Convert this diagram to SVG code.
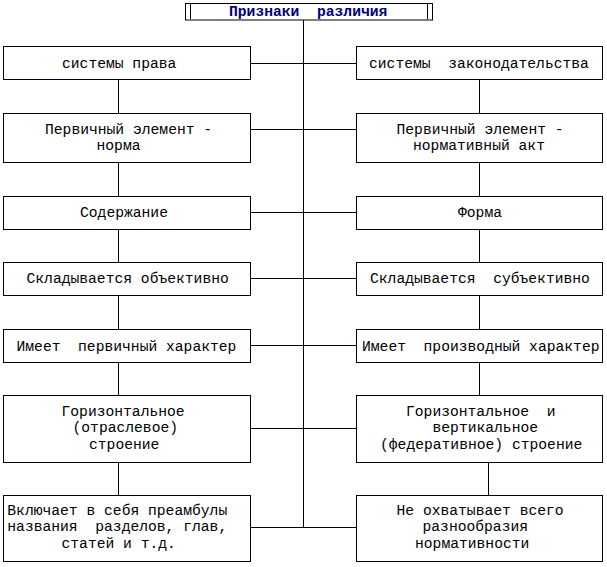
<svg xmlns="http://www.w3.org/2000/svg" width="607" height="567" viewBox="0 0 607 567">
<style>
.b{fill:#fff;stroke:#000;stroke-width:1}
.c line{stroke:#000;stroke-width:1}
text{font-family:"Liberation Mono","Courier New",monospace;font-size:14.67px;fill:#000;white-space:pre}
.t{font-weight:bold;fill:#000080}
</style>
<rect width="607" height="567" fill="#fff"/>
<g id="connectors" class="c">
<line x1="303.5" y1="20" x2="303.5" y2="527.5"/>
<line x1="250.5" y1="63.5" x2="356.5" y2="63.5"/>
<line x1="250.5" y1="129.5" x2="356.5" y2="129.5"/>
<line x1="250.5" y1="212.5" x2="356.5" y2="212.5"/>
<line x1="250.5" y1="278.5" x2="356.5" y2="278.5"/>
<line x1="250.5" y1="345.5" x2="356.5" y2="345.5"/>
<line x1="250.5" y1="428.5" x2="356.5" y2="428.5"/>
<line x1="250.5" y1="527.5" x2="356.5" y2="527.5"/>
<line x1="118.5" y1="79.5" x2="118.5" y2="113.5"/>
<line x1="118.5" y1="162.5" x2="118.5" y2="196.5"/>
<line x1="118.5" y1="229.5" x2="118.5" y2="262.5"/>
<line x1="118.5" y1="295.5" x2="118.5" y2="329.5"/>
<line x1="118.5" y1="362.5" x2="118.5" y2="395.5"/>
<line x1="118.5" y1="462.5" x2="118.5" y2="495.5"/>
<line x1="479.5" y1="79.5" x2="479.5" y2="113.5"/>
<line x1="479.5" y1="162.5" x2="479.5" y2="196.5"/>
<line x1="479.5" y1="229.5" x2="479.5" y2="262.5"/>
<line x1="479.5" y1="295.5" x2="479.5" y2="329.5"/>
<line x1="479.5" y1="362.5" x2="479.5" y2="395.5"/>
<line x1="488.5" y1="462.5" x2="488.5" y2="495.5"/>
</g>
<g id="title">
<rect class="b" x="185.5" y="3.5" width="247" height="16.5"/>
<line x1="190.5" y1="4" x2="190.5" y2="19" stroke="#000"/>
<line x1="427.5" y1="4" x2="427.5" y2="19" stroke="#000"/>
<text class="t" x="229" y="15.5" xml:space="preserve">Признаки  различия</text>
</g>
<g id="l1"><rect class="b" x="3.5" y="46.5" width="247" height="33"/><text x="62" y="67.5">системы права</text></g>
<g id="r1"><rect class="b" x="356.5" y="46.5" width="246" height="33"/><text x="369" y="67.5" xml:space="preserve">системы  законодательства</text></g>
<g id="l2"><rect class="b" x="3.5" y="113.5" width="247" height="49"/><text x="45" y="133.5">Первичный элемент -</text><text x="96.5" y="150">норма</text></g>
<g id="r2"><rect class="b" x="356.5" y="113.5" width="246" height="49"/><text x="396.5" y="133.5">Первичный элемент -</text><text x="413" y="150">нормативный акт</text></g>
<g id="l3"><rect class="b" x="3.5" y="196.5" width="247" height="33"/><text x="80" y="216.5">Содержание</text></g>
<g id="r3"><rect class="b" x="356.5" y="196.5" width="246" height="33"/><text x="458" y="216.5">Форма</text></g>
<g id="l4"><rect class="b" x="3.5" y="262.5" width="247" height="33"/><text x="26.5" y="283">Складывается объективно</text></g>
<g id="r4"><rect class="b" x="356.5" y="262.5" width="246" height="33"/><text x="370" y="283" xml:space="preserve">Складывается  субъективно</text></g>
<g id="l5"><rect class="b" x="3.5" y="329.5" width="247" height="33"/><text x="16.5" y="350.5" xml:space="preserve">Имеет  первичный характер</text></g>
<g id="r5"><rect class="b" x="356.5" y="329.5" width="246" height="33"/><text x="362" y="350.5" xml:space="preserve">Имеет  производный характер</text></g>
<g id="l6"><rect class="b" x="3.5" y="395.5" width="247" height="67"/><text x="61.5" y="416">Горизонтальное</text><text x="72.5" y="432.3">(отраслевое)</text><text x="89" y="448.5">строение</text></g>
<g id="r6"><rect class="b" x="356.5" y="395.5" width="246" height="67"/><text x="406" y="416" xml:space="preserve">Горизонтальное  и</text><text x="432.5" y="432.3">вертикальное</text><text x="380" y="448.5">(федеративное) строение</text></g>
<g id="l7"><rect class="b" x="3.5" y="495.5" width="247" height="66"/><text x="7.3" y="515">Включает в себя преамбулы</text><text x="7.3" y="531" xml:space="preserve">названия  разделов, глав,</text><text x="61.5" y="547.5">статей и т.д.</text></g>
<g id="r7"><rect class="b" x="356.5" y="495.5" width="246" height="66"/><text x="396.5" y="515">Не охватывает всего</text><text x="422.5" y="531">разнообразия</text><text x="415" y="547.5">нормативности</text></g>
</svg>
